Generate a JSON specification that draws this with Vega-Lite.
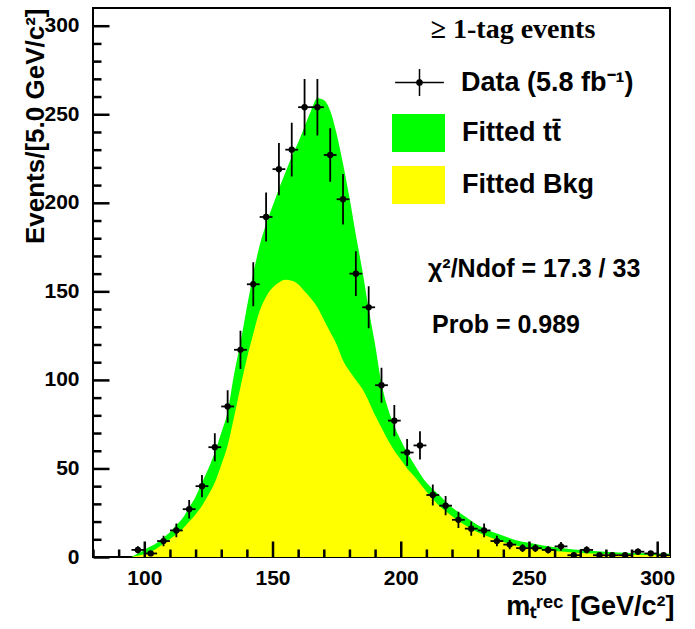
{
  "$schema": "https://vega.github.io/schema/vega-lite/v6.json",
  "width": 577,
  "height": 549,
  "autosize": {"type": "none"},
  "padding": {"left": 93, "top": 8, "right": 25, "bottom": 72},
  "background": "white",
  "config": {"view": {"stroke": "black", "strokeWidth": 2}, "font": "Liberation Sans"},
  "resolve": {"axis": {"x": "independent", "y": "independent"}},
  "datasets": {
    "fit": [
      {"m": 95, "total": 0, "bkg": 0},
      {"m": 96, "total": 0.8, "bkg": 0.3},
      {"m": 97.5, "total": 2, "bkg": 0.7},
      {"m": 100, "total": 4, "bkg": 1.5},
      {"m": 102.5, "total": 6, "bkg": 3},
      {"m": 105, "total": 8, "bkg": 5},
      {"m": 107.5, "total": 11, "bkg": 7.5},
      {"m": 110, "total": 14, "bkg": 10},
      {"m": 112.5, "total": 18, "bkg": 13},
      {"m": 115, "total": 22, "bkg": 16},
      {"m": 117.5, "total": 28, "bkg": 20},
      {"m": 120, "total": 34, "bkg": 24},
      {"m": 122.5, "total": 42, "bkg": 29},
      {"m": 125, "total": 50, "bkg": 35},
      {"m": 127.5, "total": 59, "bkg": 42},
      {"m": 130, "total": 70, "bkg": 52},
      {"m": 132.5, "total": 82, "bkg": 63},
      {"m": 135, "total": 103, "bkg": 79},
      {"m": 137.5, "total": 121, "bkg": 96},
      {"m": 140, "total": 141, "bkg": 112},
      {"m": 142.5, "total": 160, "bkg": 126},
      {"m": 145, "total": 176, "bkg": 139},
      {"m": 147.5, "total": 188, "bkg": 147},
      {"m": 150, "total": 198, "bkg": 152},
      {"m": 152.5, "total": 208, "bkg": 155},
      {"m": 155, "total": 217, "bkg": 156.5},
      {"m": 157.5, "total": 226, "bkg": 156},
      {"m": 160, "total": 234, "bkg": 154},
      {"m": 162.5, "total": 243, "bkg": 150},
      {"m": 165, "total": 252, "bkg": 146},
      {"m": 167.5, "total": 259, "bkg": 141},
      {"m": 170, "total": 258, "bkg": 134},
      {"m": 172.5, "total": 252, "bkg": 127},
      {"m": 175, "total": 239, "bkg": 120},
      {"m": 177.5, "total": 222, "bkg": 111},
      {"m": 180, "total": 203, "bkg": 105},
      {"m": 182.5, "total": 182, "bkg": 100},
      {"m": 185, "total": 162, "bkg": 95},
      {"m": 187.5, "total": 140, "bkg": 88},
      {"m": 190, "total": 120, "bkg": 80},
      {"m": 192.5, "total": 98, "bkg": 73},
      {"m": 195, "total": 84, "bkg": 66},
      {"m": 197.5, "total": 74, "bkg": 60},
      {"m": 200, "total": 66, "bkg": 55},
      {"m": 202.5, "total": 59, "bkg": 50},
      {"m": 205, "total": 53, "bkg": 46},
      {"m": 210, "total": 42, "bkg": 37},
      {"m": 215, "total": 35, "bkg": 29},
      {"m": 220, "total": 28, "bkg": 23},
      {"m": 225, "total": 23, "bkg": 18},
      {"m": 230, "total": 18, "bkg": 14},
      {"m": 235, "total": 14.5, "bkg": 11},
      {"m": 240, "total": 12, "bkg": 8.5},
      {"m": 245, "total": 9.5, "bkg": 6.5},
      {"m": 250, "total": 8, "bkg": 5.2},
      {"m": 255, "total": 6.6, "bkg": 4.2},
      {"m": 260, "total": 5.5, "bkg": 3.4},
      {"m": 265, "total": 4.7, "bkg": 2.8},
      {"m": 270, "total": 4, "bkg": 2.3},
      {"m": 280, "total": 3, "bkg": 1.7},
      {"m": 290, "total": 2.3, "bkg": 1.3},
      {"m": 300, "total": 2, "bkg": 1.0},
      {"m": 305, "total": 1.9, "bkg": 0.9}
    ],
    "bins": [
      {"m": 97.5, "xlo": 95, "xhi": 100, "n": 4, "lo": 2, "hi": 6},
      {"m": 102.5, "xlo": 100, "xhi": 105, "n": 2, "lo": 0.59, "hi": 3.41},
      {"m": 107.5, "xlo": 105, "xhi": 110, "n": 9, "lo": 6, "hi": 12},
      {"m": 112.5, "xlo": 110, "xhi": 115, "n": 15, "lo": 11.13, "hi": 18.87},
      {"m": 117.5, "xlo": 115, "xhi": 120, "n": 27, "lo": 21.8, "hi": 32.2},
      {"m": 122.5, "xlo": 120, "xhi": 125, "n": 40, "lo": 33.68, "hi": 46.32},
      {"m": 127.5, "xlo": 125, "xhi": 130, "n": 62, "lo": 54.13, "hi": 69.87},
      {"m": 132.5, "xlo": 130, "xhi": 135, "n": 85, "lo": 75.78, "hi": 94.22},
      {"m": 137.5, "xlo": 135, "xhi": 140, "n": 117, "lo": 106.18, "hi": 127.82},
      {"m": 142.5, "xlo": 140, "xhi": 145, "n": 154, "lo": 141.59, "hi": 166.41},
      {"m": 147.5, "xlo": 145, "xhi": 150, "n": 192, "lo": 178.14, "hi": 205.86},
      {"m": 152.5, "xlo": 150, "xhi": 155, "n": 219, "lo": 204.2, "hi": 233.8},
      {"m": 157.5, "xlo": 155, "xhi": 160, "n": 230, "lo": 214.83, "hi": 245.17},
      {"m": 162.5, "xlo": 160, "xhi": 165, "n": 254, "lo": 238.06, "hi": 269.94},
      {"m": 167.5, "xlo": 165, "xhi": 170, "n": 254, "lo": 238.06, "hi": 269.94},
      {"m": 172.5, "xlo": 170, "xhi": 175, "n": 227, "lo": 211.93, "hi": 242.07},
      {"m": 177.5, "xlo": 175, "xhi": 180, "n": 202, "lo": 187.79, "hi": 216.21},
      {"m": 182.5, "xlo": 180, "xhi": 185, "n": 160, "lo": 147.35, "hi": 172.65},
      {"m": 187.5, "xlo": 185, "xhi": 190, "n": 141, "lo": 129.13, "hi": 152.87},
      {"m": 192.5, "xlo": 190, "xhi": 195, "n": 97, "lo": 87.15, "hi": 106.85},
      {"m": 197.5, "xlo": 195, "xhi": 200, "n": 77, "lo": 68.23, "hi": 85.77},
      {"m": 202.5, "xlo": 200, "xhi": 205, "n": 59, "lo": 51.32, "hi": 66.68},
      {"m": 207.5, "xlo": 205, "xhi": 210, "n": 63, "lo": 55.06, "hi": 70.94},
      {"m": 212.5, "xlo": 210, "xhi": 215, "n": 35, "lo": 29.08, "hi": 40.92},
      {"m": 217.5, "xlo": 215, "xhi": 220, "n": 29, "lo": 23.61, "hi": 34.39},
      {"m": 222.5, "xlo": 220, "xhi": 225, "n": 21, "lo": 16.42, "hi": 25.58},
      {"m": 227.5, "xlo": 225, "xhi": 230, "n": 16, "lo": 12, "hi": 20},
      {"m": 232.5, "xlo": 230, "xhi": 235, "n": 15, "lo": 11.13, "hi": 18.87},
      {"m": 237.5, "xlo": 235, "xhi": 240, "n": 9, "lo": 6, "hi": 12},
      {"m": 242.5, "xlo": 240, "xhi": 245, "n": 7, "lo": 4.35, "hi": 9.65},
      {"m": 247.5, "xlo": 245, "xhi": 250, "n": 5, "lo": 2.76, "hi": 7.24},
      {"m": 252.5, "xlo": 250, "xhi": 255, "n": 5, "lo": 2.76, "hi": 7.24},
      {"m": 257.5, "xlo": 255, "xhi": 260, "n": 4, "lo": 2, "hi": 6},
      {"m": 262.5, "xlo": 260, "xhi": 265, "n": 6, "lo": 3.55, "hi": 8.45},
      {"m": 267.5, "xlo": 265, "xhi": 270, "n": 1, "lo": 0, "hi": 2},
      {"m": 272.5, "xlo": 270, "xhi": 275, "n": 4, "lo": 2, "hi": 6},
      {"m": 277.5, "xlo": 275, "xhi": 280, "n": 1, "lo": 0, "hi": 2},
      {"m": 282.5, "xlo": 280, "xhi": 285, "n": 1, "lo": 0, "hi": 2},
      {"m": 287.5, "xlo": 285, "xhi": 290, "n": 1, "lo": 0, "hi": 2},
      {"m": 292.5, "xlo": 290, "xhi": 295, "n": 3, "lo": 1.27, "hi": 4.73},
      {"m": 297.5, "xlo": 295, "xhi": 300, "n": 2, "lo": 0.59, "hi": 3.41},
      {"m": 302.5, "xlo": 300, "xhi": 305, "n": 1, "lo": 0, "hi": 2}
    ]
  },
  "layer": [
    {
      "data": {"name": "fit"},
      "mark": {"type": "area", "interpolate": "monotone", "clip": true, "opacity": 1},
      "encoding": {
        "x": {
          "field": "m", "type": "quantitative",
          "scale": {"domain": [80, 305], "nice": false, "zero": false},
          "axis": {
            "orient": "bottom", "zindex": 2, "offset": -16,
            "title": "mₜʳᵉᶜ [GeV/c²]",
            "values": [100, 150, 200, 250, 300],
            "grid": false, "domain": false,
            "ticks": true, "tickSize": 16, "tickColor": "black", "tickWidth": 2.5, "tickOpacity": 1, "tickRound": false,
            "labelFont": "Liberation Sans", "labelFontSize": 21, "labelFontWeight": "bold", "labelColor": "black",
            "labelPadding": 10, "labelOverlap": false, "labelFlush": false,
            "titleFont": "Liberation Sans", "titleFontSize": 27, "titleFontWeight": "bold", "titleColor": "black",
            "titleX": 581, "titleY": 73, "titleAlign": "right", "titleBaseline": "alphabetic", "titleAngle": 0
          }
        },
        "y": {
          "field": "total", "type": "quantitative",
          "scale": {"domain": [0, 310], "nice": false, "zero": true},
          "axis": {
            "orient": "left", "zindex": 2, "offset": -16,
            "title": "Events/[5.0 GeV/c²]",
            "values": [0, 50, 100, 150, 200, 250, 300],
            "grid": false, "domain": false,
            "ticks": true, "tickSize": 16, "tickColor": "black", "tickWidth": 2.5, "tickOpacity": 1, "tickRound": false,
            "labelFont": "Liberation Sans", "labelFontSize": 21, "labelFontWeight": "bold", "labelColor": "black",
            "labelPadding": 14, "labelOverlap": false, "labelFlush": false,
            "titleFont": "Liberation Sans", "titleFontSize": 26, "titleFontWeight": "bold", "titleColor": "black",
            "titleX": -66, "titleY": 0, "titleAlign": "right", "titleBaseline": "alphabetic", "titleAngle": -90
          }
        },
        "color": {
          "datum": "Fitted tt̄",
          "type": "nominal",
          "scale": {"domain": ["Fitted tt̄", "Fitted Bkg"], "range": ["#00ff00", "#ffff00"]},
          "legend": {
            "orient": "none", "legendX": 299, "legendY": 98.5, "direction": "vertical",
            "title": null,
            "labelFont": "Liberation Sans", "labelFontSize": 27, "labelFontWeight": "bold", "labelColor": "black",
            "labelOffset": 17, "labelLimit": 0,
            "symbolType": "M-1,-0.72H1V0.72H-1Z",
            "symbolSize": 2809, "symbolStrokeWidth": 0, "rowPadding": 6, "padding": 0
          }
        }
      }
    },
    {
      "data": {"name": "fit"},
      "mark": {"type": "area", "interpolate": "monotone", "clip": true, "opacity": 1, "color": "#ffff00"},
      "encoding": {
        "x": {
          "field": "m", "type": "quantitative",
          "axis": {
            "orient": "bottom", "zindex": 2, "offset": -8, "title": null, "labels": false, "domain": false, "grid": false,
            "values": [80, 90, 110, 120, 130, 140, 160, 170, 180, 190, 210, 220, 230, 240, 260, 270, 280, 290],
            "ticks": true, "tickSize": 8, "tickColor": "black", "tickWidth": 2.5, "tickOpacity": 1, "tickRound": false
          }
        },
        "y": {
          "field": "bkg", "type": "quantitative",
          "axis": {
            "orient": "left", "zindex": 2, "offset": -8, "title": null, "labels": false, "domain": false, "grid": false,
            "values": [10, 20, 30, 40, 60, 70, 80, 90, 110, 120, 130, 140, 160, 170, 180, 190, 210, 220, 230, 240, 260, 270, 280, 290],
            "ticks": true, "tickSize": 8, "tickColor": "black", "tickWidth": 2.5, "tickOpacity": 1, "tickRound": false
          }
        }
      }
    },
    {
      "data": {"name": "bins"},
      "mark": {"type": "rule", "color": "black", "strokeWidth": 1.8, "clip": true},
      "encoding": {
        "x": {"field": "m", "type": "quantitative", "axis": null},
        "y": {"field": "lo", "type": "quantitative", "axis": null},
        "y2": {"field": "hi"},
        "strokeDash": {
          "datum": "Data (5.8 fb⁻¹)",
          "type": "nominal",
          "scale": {"domain": ["Data (5.8 fb⁻¹)"], "range": [[1, 0]]},
          "legend": {
            "orient": "none", "legendX": 299, "legendY": 8, "direction": "vertical",
            "title": "≥ 1-tag events",
            "titleFont": "Liberation Serif", "titleFontSize": 28, "titleFontWeight": "bold", "titleColor": "black",
            "titleAnchor": "middle", "titlePadding": 11, "titleLimit": 0,
            "labelFont": "Liberation Sans", "labelFontSize": 27, "labelFontWeight": "bold", "labelColor": "black",
            "labelOffset": 14, "labelLimit": 0,
            "symbolType": "M-0.92,0H0.92M0,-0.51V0.51M0.1,0A0.1,0.1 0 1 1 -0.1,0A0.1,0.1 0 1 1 0.1,0Z",
            "symbolSize": 2809, "symbolStrokeWidth": 1.5, "symbolStrokeColor": "black", "symbolFillColor": "black",
            "rowPadding": 0, "padding": 0
          }
        }
      }
    },
    {
      "data": {"name": "bins"},
      "mark": {"type": "rule", "color": "black", "strokeWidth": 1.8, "clip": true},
      "encoding": {
        "x": {"field": "xlo", "type": "quantitative", "axis": null},
        "x2": {"field": "xhi"},
        "y": {"field": "n", "type": "quantitative", "axis": null}
      }
    },
    {
      "data": {"name": "bins"},
      "mark": {"type": "point", "filled": true, "size": 40, "opacity": 1, "clip": true, "color": "black"},
      "encoding": {
        "x": {"field": "m", "type": "quantitative", "axis": null},
        "y": {"field": "n", "type": "quantitative", "axis": null}
      }
    },
    {
      "data": {"values": [{}]},
      "mark": {"type": "text", "align": "left", "baseline": "alphabetic", "font": "Liberation Sans", "fontSize": 25, "fontWeight": "bold", "color": "black", "text": "χ²/Ndof = 17.3 / 33"},
      "encoding": {
        "x": {"datum": 210.6, "type": "quantitative", "axis": null},
        "y": {"datum": 158.1, "type": "quantitative", "axis": null}
      }
    },
    {
      "data": {"values": [{}]},
      "mark": {"type": "text", "align": "left", "baseline": "alphabetic", "font": "Liberation Sans", "fontSize": 25, "fontWeight": "bold", "color": "black", "text": "Prob = 0.989"},
      "encoding": {
        "x": {"datum": 212.2, "type": "quantitative", "axis": null},
        "y": {"datum": 126.5, "type": "quantitative", "axis": null}
      }
    }
  ]
}
